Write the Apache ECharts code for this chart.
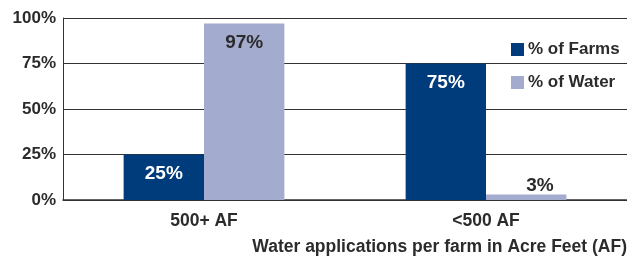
<!DOCTYPE html>
<html>
<head>
<meta charset="utf-8">
<script src="https://cdn.jsdelivr.net/npm/echarts@6/dist/echarts.min.js"></script>
<style>
  html, body { margin: 0; padding: 0; background: #fff; }
  #chart { width: 627px; height: 256px; }
</style>
</head>
<body>
<div id="chart"></div>
<script>
  // data
  var categories = ['500+ AF', '<500 AF'];
  var farms = [25, 75];
  var water = [97, 3];
  var yTicks = [0, 25, 50, 75, 100];

  var font = '"Liberation Sans", Arial, sans-serif';
  var textColor = '#2b2b2b';

  var chart = echarts.init(document.getElementById('chart'));

  chart.setOption({
    animation: false,
    textStyle: { fontFamily: font },
    title: {
      text: 'Water applications per farm in Acre Feet (AF)',
      right: 0,
      top: 238,
      padding: 0,
      textStyle: { fontFamily: font, fontSize: 17.5, fontWeight: 'bold', color: textColor }
    },
    legend: {
      orient: 'vertical',
      left: 506,
      top: 36,
      itemWidth: 13,
      itemHeight: 13,
      itemGap: 16,
      icon: 'rect',
      textStyle: { fontFamily: font, fontSize: 17, fontWeight: 'bold', color: textColor, padding: [0, 0, 0, -1] },
      data: ['% of Farms', '% of Water']
    },
    grid: { left: 63, right: -3, top: 18, bottom: 56 },
    xAxis: {
      type: 'category',
      data: categories,
      axisLine: { lineStyle: { color: '#333', width: 1.5 } },
      axisTick: { show: false },
      axisLabel: { margin: 12, fontSize: 17.5, fontWeight: 'bold', color: textColor }
    },
    yAxis: {
      type: 'value',
      min: yTicks[0],
      max: yTicks[yTicks.length - 1],
      interval: 25,
      axisLine: { show: true, lineStyle: { color: '#333', width: 1 } },
      axisTick: { show: false },
      splitLine: { lineStyle: { color: '#333', width: 1 } },
      axisLabel: {
        margin: 7, fontSize: 17, fontWeight: 'bold', color: textColor,
        formatter: function (v) { return v + '%'; }
      }
    },
    series: [
      {
        name: '% of Farms',
        type: 'bar',
        data: farms,
        barGap: '0%',
        barCategoryGap: '43%',
        itemStyle: { color: '#003b7b' },
        label: {
          show: true, position: 'insideTop', distance: 10,
          fontSize: 19, fontWeight: 'bold', color: '#fff',
          formatter: '{c}%'
        }
      },
      {
        name: '% of Water',
        type: 'bar',
        data: water,
        itemStyle: { color: '#a3abcf' },
        label: {
          show: true, position: 'insideTop', distance: 10,
          fontSize: 19, fontWeight: 'bold', color: textColor,
          formatter: '{c}%'
        },
        labelLayout: function (params) {
          // the small 3% bar carries its label above it
          if (params.rect.height < 20) {
            return { y: params.rect.y - 18 };
          }
        }
      }
    ]
  });
</script>
</body>
</html>
